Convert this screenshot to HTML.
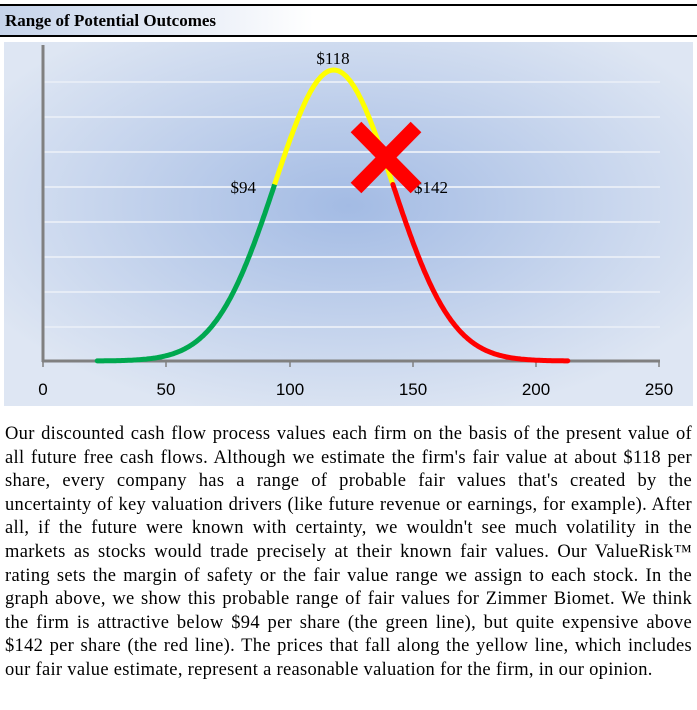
<!DOCTYPE html>
<html><head><meta charset="utf-8"><style>
body{margin:0;width:697px;height:710px;background:#fff;overflow:hidden;font-family:"Liberation Serif",serif}
#hdr{position:absolute;left:0;top:4px;width:697px;height:29px;border-top:2px solid #000;border-bottom:2px solid #000;background:linear-gradient(90deg,#c5d3ea 0%,#fff 45%,#fff 100%)}
#hdr span{position:absolute;left:5px;top:5px;font-weight:bold;font-size:17px;color:#000}
#txt{position:absolute;left:5px;top:423px;width:687px;font-size:18.5px;letter-spacing:0.3px;line-height:23.6px;color:#000}
#txt div{text-align:justify;text-align-last:justify;white-space:nowrap}
#txt div.l{text-align-last:left}
</style></head><body>
<div id="hdr"><span>Range of Potential Outcomes</span></div>
<svg width="697" height="410" style="position:absolute;left:0;top:0">
<defs><radialGradient id="g" cx="0.5" cy="0.45" r="0.6">
<stop offset="0" stop-color="#a3bbe4"/><stop offset="1" stop-color="#dee6f3"/></radialGradient></defs>
<rect x="4" y="42" width="689" height="364" fill="url(#g)"/>
<g stroke="#e6ecf6" stroke-width="2">
<line x1="44" x2="660" y1="82" y2="82"/><line x1="44" x2="660" y1="117" y2="117"/>
<line x1="44" x2="660" y1="152" y2="152"/><line x1="44" x2="660" y1="187" y2="187"/>
<line x1="44" x2="660" y1="222" y2="222"/><line x1="44" x2="660" y1="257" y2="257"/>
<line x1="44" x2="660" y1="292" y2="292"/><line x1="44" x2="660" y1="327" y2="327"/></g>
<g stroke="#808080" stroke-width="3"><line x1="43" y1="45" x2="43" y2="362"/><line x1="42" y1="361" x2="660" y2="361"/></g>
<g stroke="#808080" stroke-width="1.5"><line x1="43" y1="361" x2="43" y2="367"/><line x1="166" y1="361" x2="166" y2="367"/><line x1="290" y1="361" x2="290" y2="367"/><line x1="413" y1="361" x2="413" y2="367"/><line x1="536" y1="361" x2="536" y2="367"/><line x1="659" y1="361" x2="659" y2="367"/></g>
<g font-family="Liberation Sans,sans-serif" font-size="17" fill="#000" text-anchor="middle">
<text x="43" y="395">0</text><text x="166" y="395">50</text><text x="290" y="395">100</text><text x="413" y="395">150</text><text x="536" y="395">200</text><text x="659" y="395">250</text></g>
<path id="pg" fill="none" stroke="#00a84f" stroke-width="5" stroke-linecap="round"/>
<path id="py" fill="none" stroke="#ffff00" stroke-width="5"/>
<path id="pr" fill="none" stroke="#ff0000" stroke-width="5" stroke-linecap="round"/>
<g font-size="17" fill="#000"><text x="333" y="64" text-anchor="middle">$118</text><text x="256" y="193" text-anchor="end">$94</text><text x="414" y="193">$142</text></g>
<g stroke="#ff0000" stroke-width="15"><line x1="356" y1="127" x2="416" y2="188"/><line x1="416" y1="127" x2="356" y2="188"/></g>
</svg>
<div id="txt">
<div>Our discounted cash flow process values each firm on the basis of the present value of</div>
<div>all future free cash flows. Although we estimate the firm's fair value at about $118 per</div>
<div>share, every company has a range of probable fair values that's created by the</div>
<div>uncertainty of key valuation drivers (like future revenue or earnings, for example). After</div>
<div>all, if the future were known with certainty, we wouldn't see much volatility in the</div>
<div>markets as stocks would trade precisely at their known fair values. Our ValueRisk™</div>
<div>rating sets the margin of safety or the fair value range we assign to each stock. In the</div>
<div>graph above, we show this probable range of fair values for Zimmer Biomet. We think</div>
<div>the firm is attractive below $94 per share (the green line), but quite expensive above</div>
<div>$142 per share (the red line). The prices that fall along the yellow line, which includes</div>
<div class="l">our fair value estimate, represent a reasonable valuation for the firm, in our opinion.</div>
</div>
<script>
function P(a,b){var d="";for(var v=a;v<=b+1e-9;v+=0.5){var x=43+v*2.464,y=361-291*Math.exp(-Math.pow(v-118,2)/(2*24*24));d+=(d?"L":"M")+x.toFixed(1)+","+y.toFixed(1);}return d;}
document.getElementById("pg").setAttribute("d",P(22,94));
document.getElementById("py").setAttribute("d",P(94,142));
document.getElementById("pr").setAttribute("d",P(142,213));
</script>
</body></html>
